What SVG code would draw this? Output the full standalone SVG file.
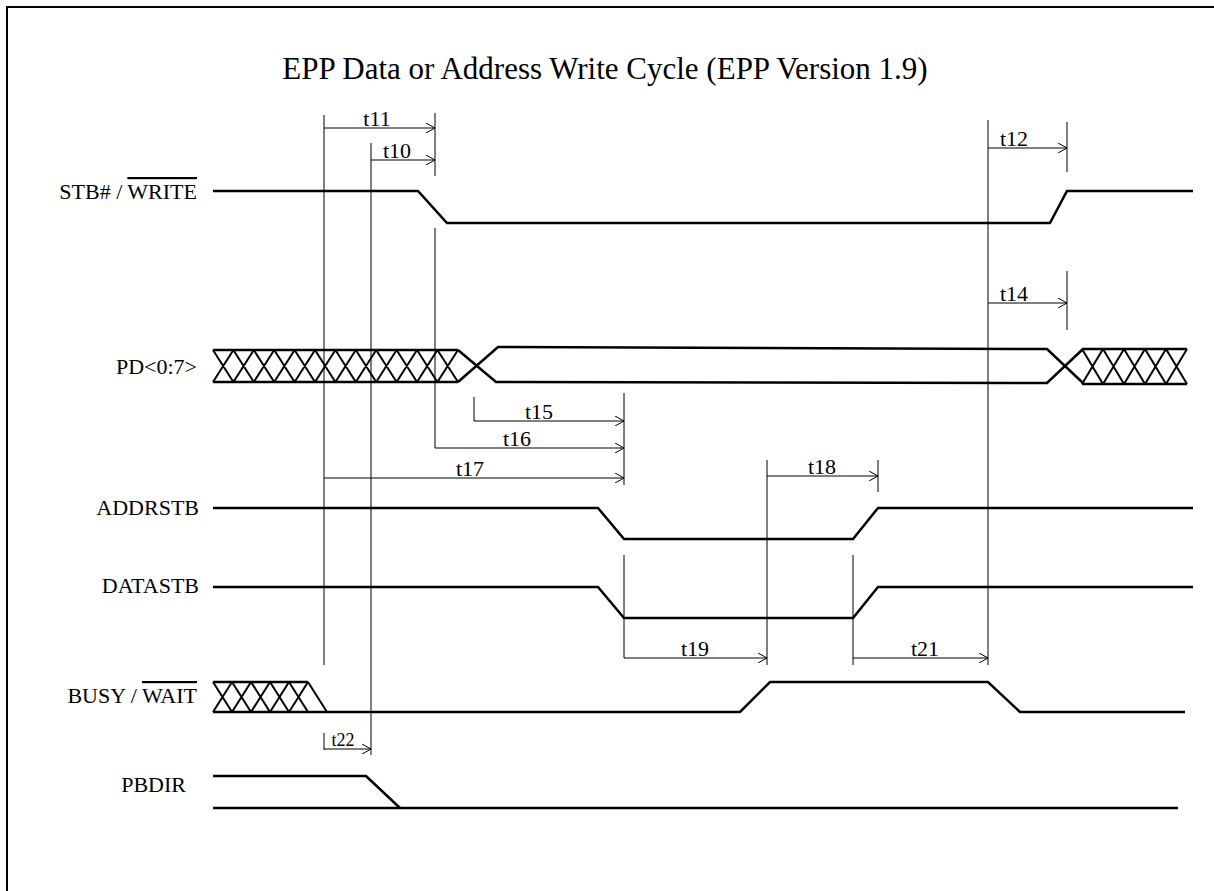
<svg xmlns="http://www.w3.org/2000/svg" width="1214" height="891" viewBox="0 0 1214 891">
<defs>
<marker id="arr" viewBox="0 0 10 10" refX="10" refY="5" markerWidth="10" markerHeight="10" markerUnits="userSpaceOnUse" orient="auto">
<polyline points="1,0 10,5 1,10" fill="none" stroke="#000" stroke-width="1"/>
</marker>
</defs>
<style>
.sig{fill:none;stroke:#000;stroke-width:2.5;stroke-linejoin:miter}
.hatch{fill:none;stroke:#000;stroke-width:2}
.dim{fill:none;stroke:#000;stroke-width:1}
.arr{fill:none;stroke:#000;stroke-width:1;marker-end:url(#arr)}
.lbl{font-family:"Liberation Serif","Times New Roman",serif;font-size:22px;fill:#000;text-anchor:end}
.tl{font-family:"Liberation Serif","Times New Roman",serif;font-size:22px;fill:#000;text-anchor:middle}
.title{font-family:"Liberation Serif","Times New Roman",serif;font-size:31px;fill:#000;text-anchor:middle}
</style>
<rect x="0" y="0" width="1214" height="891" fill="#fff"/>
<rect x="7" y="7" width="1220" height="900" fill="none" stroke="#000" stroke-width="2"/>
<text class="title" x="605" y="79">EPP Data or Address Write Cycle (EPP Version 1.9)</text>

<g id="sig-stb">
<text class="lbl" x="197" y="199">STB# / <tspan text-decoration="overline">WRITE</tspan></text>
<polyline class="sig" points="213,191 418,191 447,223 1050,223 1067,191 1193,191"/>
</g>

<g id="sig-pd">
<text class="lbl" x="197" y="374">PD&lt;0:7&gt;</text>
<line class="sig" x1="213" y1="350" x2="458" y2="350"/>
<line class="sig" x1="213" y1="382" x2="458" y2="382"/>
<path class="hatch" d="M213,350L233.4,382M213,382L233.4,350M233.4,350L253.8,382M233.4,382L253.8,350M253.8,350L274.2,382M253.8,382L274.2,350M274.2,350L294.6,382M274.2,382L294.6,350M294.6,350L315,382M294.6,382L315,350M315,350L335.4,382M315,382L335.4,350M335.4,350L355.8,382M335.4,382L355.8,350M355.8,350L376.2,382M355.8,382L376.2,350M376.2,350L396.6,382M376.2,382L396.6,350M396.6,350L417,382M396.6,382L417,350M417,350L437.4,382M417,382L437.4,350M437.4,350L458,382M437.4,382L458,350"/>
<polyline class="sig" points="458,350 496,382 1047,383 1083,349"/>
<polyline class="sig" points="458,382 498,347 1047,349 1083,383"/>
<line class="sig" x1="1082" y1="349" x2="1187" y2="349"/>
<line class="sig" x1="1082" y1="384" x2="1187" y2="384"/>
<path class="hatch" d="M1082,349L1103,384M1082,384L1103,349M1103,349L1124,384M1103,384L1124,349M1124,349L1145,384M1124,384L1145,349M1145,349L1166,384M1145,384L1166,349M1166,349L1187,384M1166,384L1187,349"/>
</g>

<g id="sig-addrstb">
<text class="lbl" x="199" y="515">ADDRSTB</text>
<polyline class="sig" points="213,508 598,508 624,539 853,539 878,508 1193,508"/>
</g>

<g id="sig-datastb">
<text class="lbl" x="199" y="593">DATASTB</text>
<polyline class="sig" points="213,587 598,587 624,618 853,618 878,587 1193,587"/>
</g>

<g id="sig-busy">
<text class="lbl" x="197" y="703">BUSY / <tspan text-decoration="overline">WAIT</tspan></text>
<line class="sig" x1="213" y1="682" x2="308" y2="682"/>
<path class="hatch" d="M213,682L232,712M213,712L232,682M232,682L251,712M232,712L251,682M251,682L270,712M251,712L270,682M270,682L289,712M270,712L289,682M289,682L308,712M289,712L308,682M308,682L327,712"/>
<polyline class="sig" points="213,712 740,712 770,682 988,682 1020,712 1185,712"/>
</g>

<g id="sig-pbdir">
<text class="lbl" x="186" y="792">PBDIR</text>
<polyline class="sig" points="213,776 366,776 400,808"/>
<line class="sig" x1="213" y1="808" x2="1178" y2="808"/>
</g>

<g id="connectors">
<line class="dim" x1="324" y1="115" x2="324" y2="665"/>
<line class="dim" x1="371" y1="143" x2="371" y2="755"/>
<line class="dim" x1="435" y1="113" x2="435" y2="176"/>
<line class="dim" x1="435" y1="228" x2="435" y2="448"/>
<line class="arr" x1="324" y1="128" x2="435" y2="128"/>
<line class="arr" x1="371" y1="160" x2="435" y2="160"/>
<text class="tl" x="377" y="126">t11</text>
<text class="tl" x="397" y="158">t10</text>

<line class="dim" x1="988" y1="120" x2="988" y2="665"/>
<line class="dim" x1="1067" y1="122" x2="1067" y2="172"/>
<line class="arr" x1="988" y1="148" x2="1067" y2="148"/>
<text class="tl" x="1014" y="146">t12</text>
<line class="dim" x1="1067" y1="271" x2="1067" y2="330"/>
<line class="arr" x1="988" y1="303" x2="1067" y2="303"/>
<text class="tl" x="1014" y="301">t14</text>

<line class="dim" x1="474" y1="397" x2="474" y2="421"/>
<line class="dim" x1="624" y1="393" x2="624" y2="485"/>
<line class="arr" x1="474" y1="421" x2="624" y2="421"/>
<text class="tl" x="539" y="419">t15</text>
<line class="arr" x1="435" y1="448" x2="624" y2="448"/>
<text class="tl" x="517" y="446">t16</text>
<line class="arr" x1="324" y1="478" x2="624" y2="478"/>
<text class="tl" x="470" y="476">t17</text>

<line class="dim" x1="767" y1="460" x2="767" y2="665"/>
<line class="dim" x1="878" y1="460" x2="878" y2="492"/>
<line class="arr" x1="767" y1="476" x2="878" y2="476"/>
<text class="tl" x="822" y="474">t18</text>

<line class="dim" x1="624" y1="555" x2="624" y2="658"/>
<line class="dim" x1="853" y1="555" x2="853" y2="665"/>
<line class="arr" x1="624" y1="658" x2="767" y2="658"/>
<text class="tl" x="695" y="656">t19</text>
<line class="arr" x1="853" y1="658" x2="988" y2="658"/>
<text class="tl" x="925" y="656">t21</text>

<line class="dim" x1="324" y1="733" x2="324" y2="750"/>
<line class="arr" x1="324" y1="749" x2="371" y2="749"/>
<text class="tl" x="343" y="746" style="font-size:18px">t22</text>
</g>
</svg>
